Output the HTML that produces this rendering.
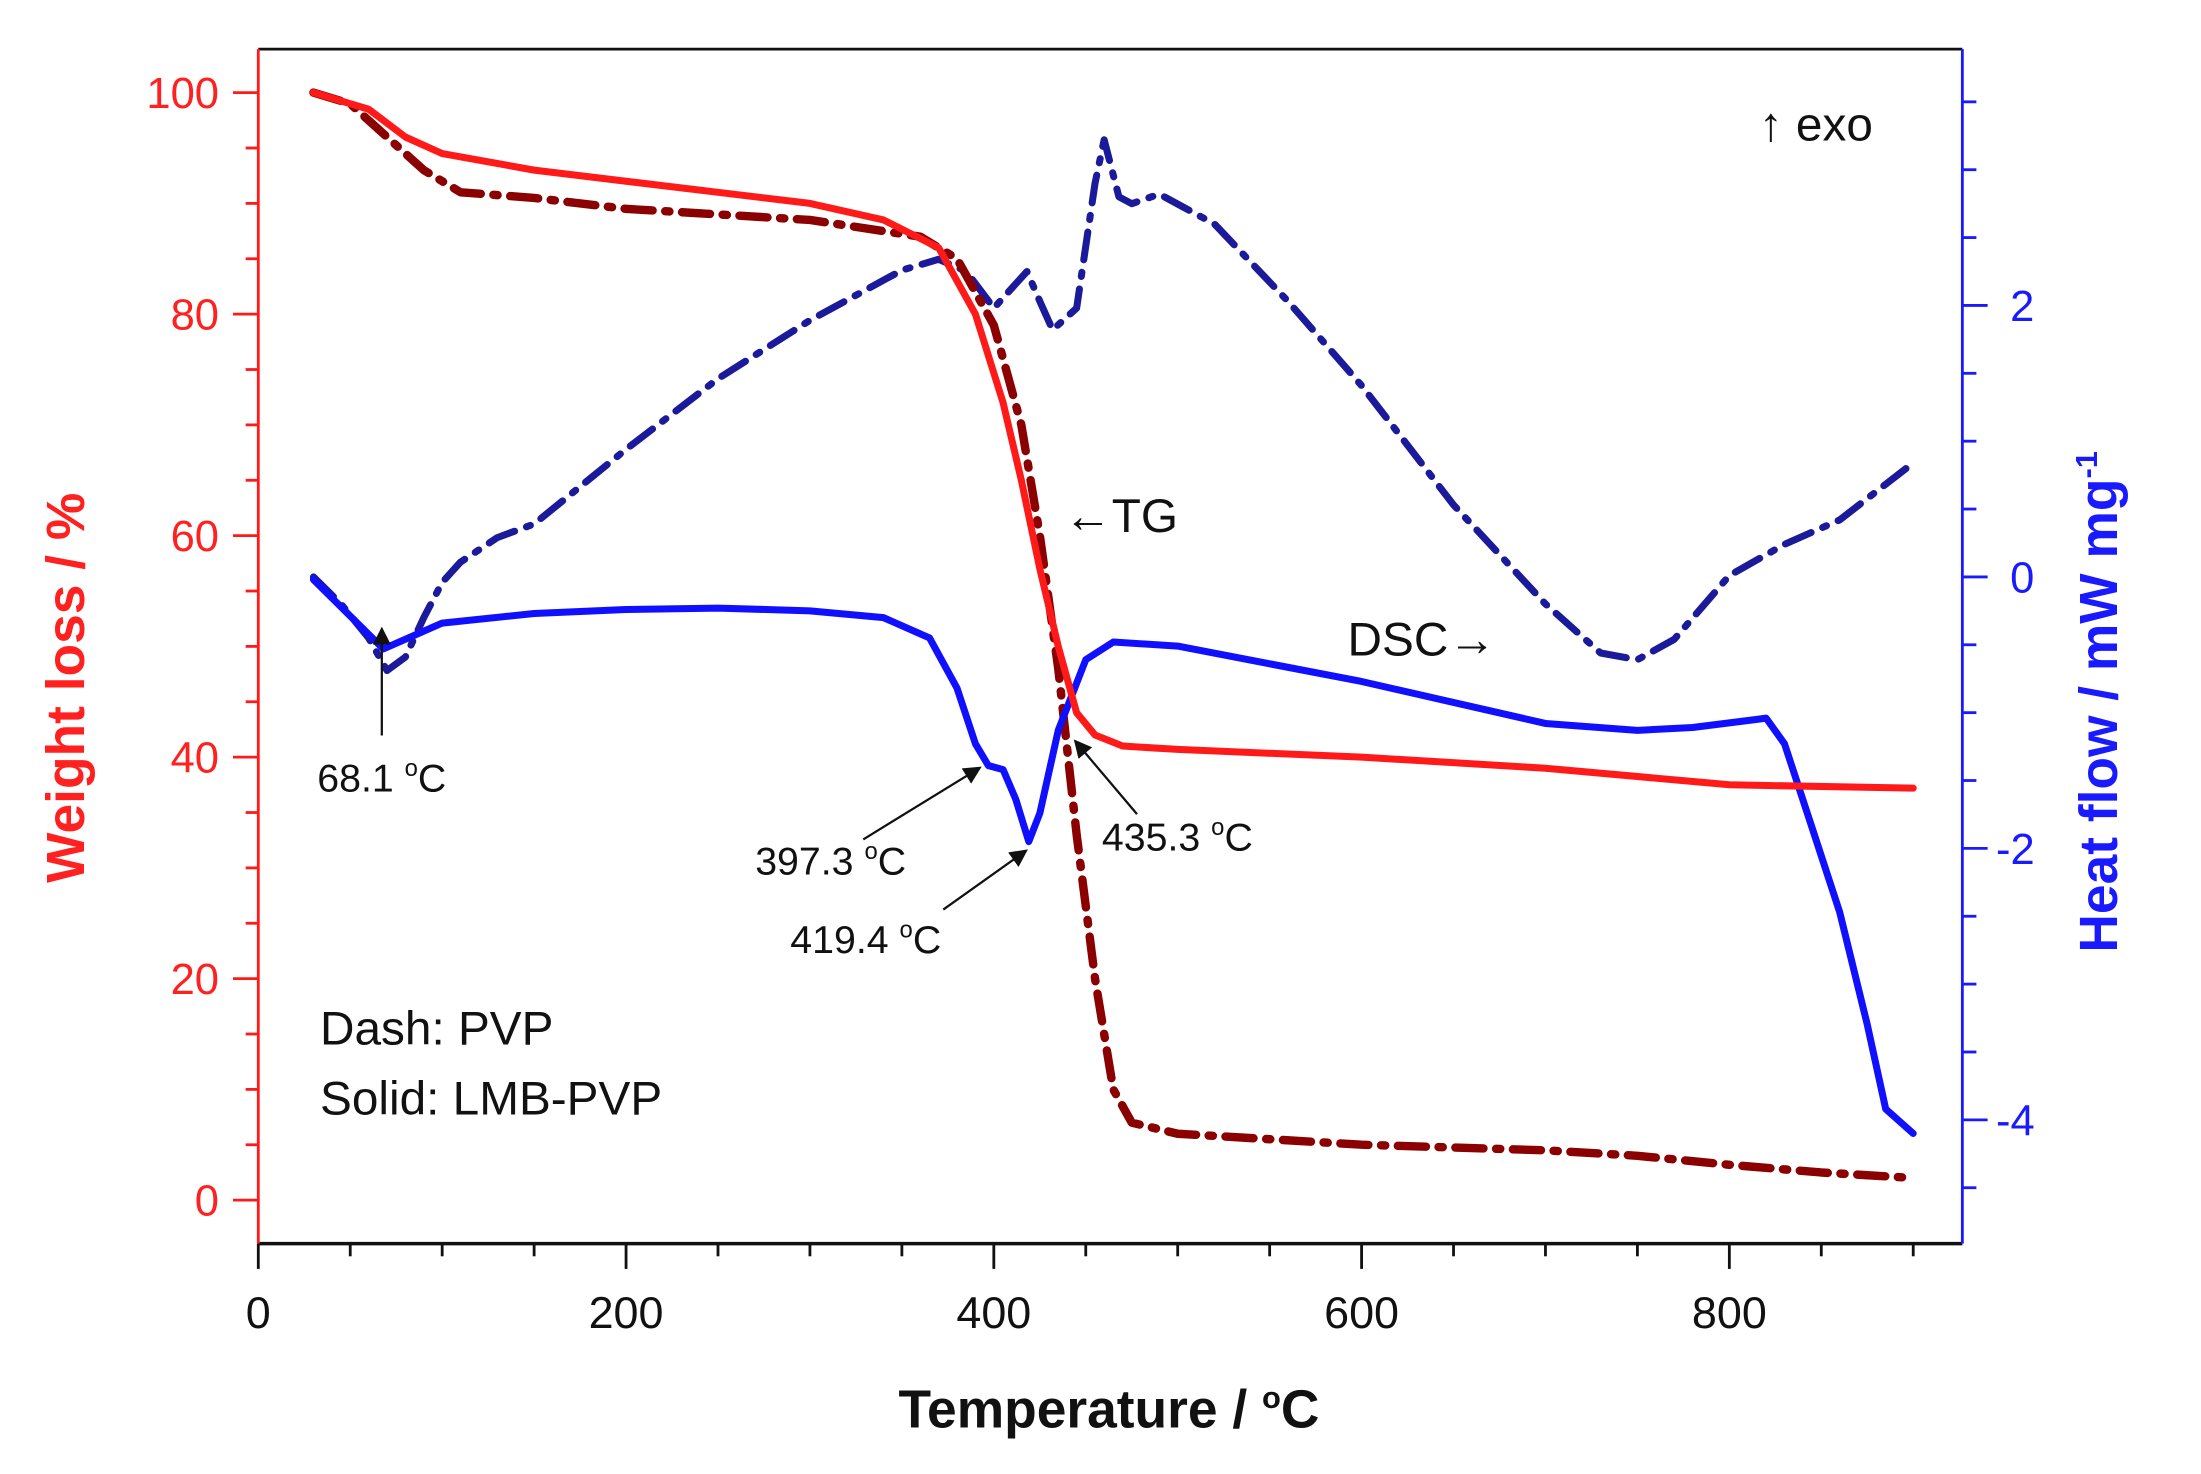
<!DOCTYPE html>
<html><head><meta charset="utf-8"><style>
html,body{margin:0;padding:0;background:#fff}
svg{display:block}
text{font-family:"Liberation Sans",Arial,sans-serif}
</style></head><body>
<svg id="chart" width="2201" height="1474" viewBox="0 0 1568 1050.1" xmlns="http://www.w3.org/2000/svg">
<rect x="0" y="0" width="1568" height="1051" fill="#fff"/>
<g id="marks"></g>
<g id="axes"></g>
<g id="annot" font-size="28" fill="#111">
<text x="1253" y="100" font-size="34">↑ exo</text>
<text x="758" y="379" font-size="34">←TG</text>
<text x="960" y="467" font-size="34">DSC→</text>
<text x="226" y="564">68.1 <tspan font-size="17" dy="-11">o</tspan><tspan dy="11">C</tspan></text>
<text x="538" y="623">397.3 <tspan font-size="17" dy="-11">o</tspan><tspan dy="11">C</tspan></text>
<text x="563" y="679">419.4 <tspan font-size="17" dy="-11">o</tspan><tspan dy="11">C</tspan></text>
<text x="785" y="606">435.3 <tspan font-size="17" dy="-11">o</tspan><tspan dy="11">C</tspan></text>
<text x="228" y="744" font-size="34">Dash: PVP</text>
<text x="228" y="794" font-size="34">Solid: LMB-PVP</text>
<defs><marker id="ah" markerWidth="8" markerHeight="8" refX="7" refY="4" orient="auto"><path d="M0,0 L8,4 L0,8 z" fill="#111"/></marker></defs>
<line x1="272" y1="524" x2="272" y2="448" stroke="#111" stroke-width="1.6" marker-end="url(#ah)"/>
<line x1="615" y1="598" x2="698" y2="547" stroke="#111" stroke-width="1.6" marker-end="url(#ah)"/>
<line x1="672" y1="648" x2="731" y2="606" stroke="#111" stroke-width="1.6" marker-end="url(#ah)"/>
<line x1="810" y1="580" x2="766" y2="528" stroke="#111" stroke-width="1.6" marker-end="url(#ah)"/>
</g>
<text x="790" y="1017" font-size="38" font-weight="bold" text-anchor="middle" fill="#111">Temperature / <tspan font-size="22" dy="-14">o</tspan><tspan dy="14">C</tspan></text>
<text transform="translate(60,490) rotate(-90)" font-size="38" font-weight="bold" text-anchor="middle" fill="#ff2020">Weight loss / %</text>
<text transform="translate(1508,500) rotate(-90)" font-size="38" font-weight="bold" text-anchor="middle" fill="#1a1aff">Heat flow / mW mg<tspan font-size="22" dy="-14">-1</tspan></text>
</svg>
<script>
const temps_tgSolid=[30,60,80,100,150,200,250,300,340,370,390,405,415,425,435,445,455,470,500,600,700,800,900];
const weight_tgSolid=[100,98.5,96,94.5,93,92,91,90,88.5,86,80,72,65,57,50,44,42,41,40.7,40,39,37.5,37.2];
const temps_tgDash=[30,50,70,90,110,150,200,300,360,380,400,415,425,435,445,455,465,475,500,600,700,750,800,850,900];
const weight_tgDash=[100,99,96,93,91,90.5,89.5,88.5,87,85,79,70,60,48,33,20,10,7,6,5,4.5,4,3.2,2.5,2];
const temps_dscSolid=[30,68,100,150,200,250,300,340,365,380,390,397,405,412,419,425,435,450,465,500,600,700,750,780,815,820,830,845,860,875,885,900];
const heat_dscSolid=[-0.02,-0.53,-0.34,-0.27,-0.24,-0.23,-0.25,-0.30,-0.45,-0.82,-1.23,-1.39,-1.42,-1.64,-1.95,-1.74,-1.13,-0.61,-0.48,-0.51,-0.77,-1.08,-1.13,-1.11,-1.05,-1.04,-1.23,-1.85,-2.47,-3.3,-3.92,-4.1];
const temps_dscDash=[30,45,60,70,80,90,100,110,130,150,200,250,300,350,370,385,400,410,418,425,432,445,455,460,468,475,490,520,560,600,650,700,730,750,770,800,830,860,900];
const heat_dscDash=[0,-0.2,-0.45,-0.69,-0.59,-0.3,-0.04,0.11,0.29,0.39,0.94,1.46,1.89,2.26,2.34,2.25,1.98,2.13,2.25,2.03,1.82,1.98,2.9,3.22,2.8,2.75,2.82,2.6,2.03,1.41,0.53,-0.2,-0.56,-0.61,-0.46,0.01,0.24,0.42,0.84];
const xTicks=[0,200,400,600,800];
const leftTicks=[0,20,40,60,80,100];
const rightTicks=[-4,-2,0,2];

const X=t=>184+t*1.31;
const YL=w=>855-w*7.89;
const YR=h=>411-h*96.7;
const NS='http://www.w3.org/2000/svg';
const marks=document.getElementById('marks'), axes=document.getElementById('axes');
function mk(tag,attrs,parent){const e=document.createElementNS(NS,tag);for(const k in attrs)e.setAttribute(k,attrs[k]);parent.appendChild(e);return e;}
function line(ts,vs,fy,color,dash,w,name){
  const d=ts.map((t,i)=>(i?'L':'M')+X(t).toFixed(1)+','+fy(vs[i]).toFixed(1)).join(' ');
  const p=mk('path',{d:d,fill:'none',stroke:color,'stroke-width':w,'stroke-linejoin':'round','stroke-linecap':'round'},marks);
  if(dash)p.setAttribute('stroke-dasharray',dash);
  
  
}
line(temps_dscDash,heat_dscDash,YR,'#1a1a9a','20,9,3,9',5,'dsc-pvp-line');
line(temps_tgDash,weight_tgDash,YL,'#8b0000','20,9,3,9',6,'tg-pvp-line');
line(temps_dscSolid,heat_dscSolid,YR,'#1010ff','',5,'dsc-lmb-pvp-line');
line(temps_tgSolid,weight_tgSolid,YL,'#ff1a1a','',5,'tg-lmb-pvp-line');

mk('line',{x1:184,y1:35,x2:1398,y2:35,stroke:'#111','stroke-width':2},axes);
mk('line',{x1:184,y1:886,x2:1398,y2:886,stroke:'#111','stroke-width':2.5},axes);
mk('line',{x1:184,y1:35,x2:184,y2:886,stroke:'#ff1a1a','stroke-width':2},axes);
mk('line',{x1:1398,y1:35,x2:1398,y2:886,stroke:'#1a1aff','stroke-width':2},axes);
for(let t=0;t<=900;t+=50){const maj=t%200===0;mk('line',{x1:X(t),y1:886,x2:X(t),y2:886+(maj?18:9),stroke:'#111','stroke-width':2},axes);}
xTicks.forEach(t=>{const e=mk('text',{x:X(t),y:946,'font-size':32,'text-anchor':'middle',fill:'#111'},axes);e.textContent=t;
  
  });
for(let w=0;w<=100;w+=5){const maj=w%20===0;mk('line',{x1:184-(maj?18:9),y1:YL(w),x2:184,y2:YL(w),stroke:'#ff1a1a','stroke-width':2},axes);}
leftTicks.forEach(w=>{const e=mk('text',{x:156,y:YL(w)+11,'font-size':31,'text-anchor':'end',fill:'#ff2020'},axes);e.textContent=w;
  
  });
for(let h=-4.5;h<=3.5;h+=0.5){const maj=Math.abs(h%2)<1e-9;mk('line',{x1:1398,y1:YR(h),x2:1398+(maj?18:10),y2:YR(h),stroke:'#1a1aff','stroke-width':2},axes);}
rightTicks.forEach(h=>{const e=mk('text',{x:h<0?1422:1432,y:YR(h)+11,'font-size':31,fill:'#1a1aff'},axes);e.textContent=h;
  
  });
</script>
</body></html>
